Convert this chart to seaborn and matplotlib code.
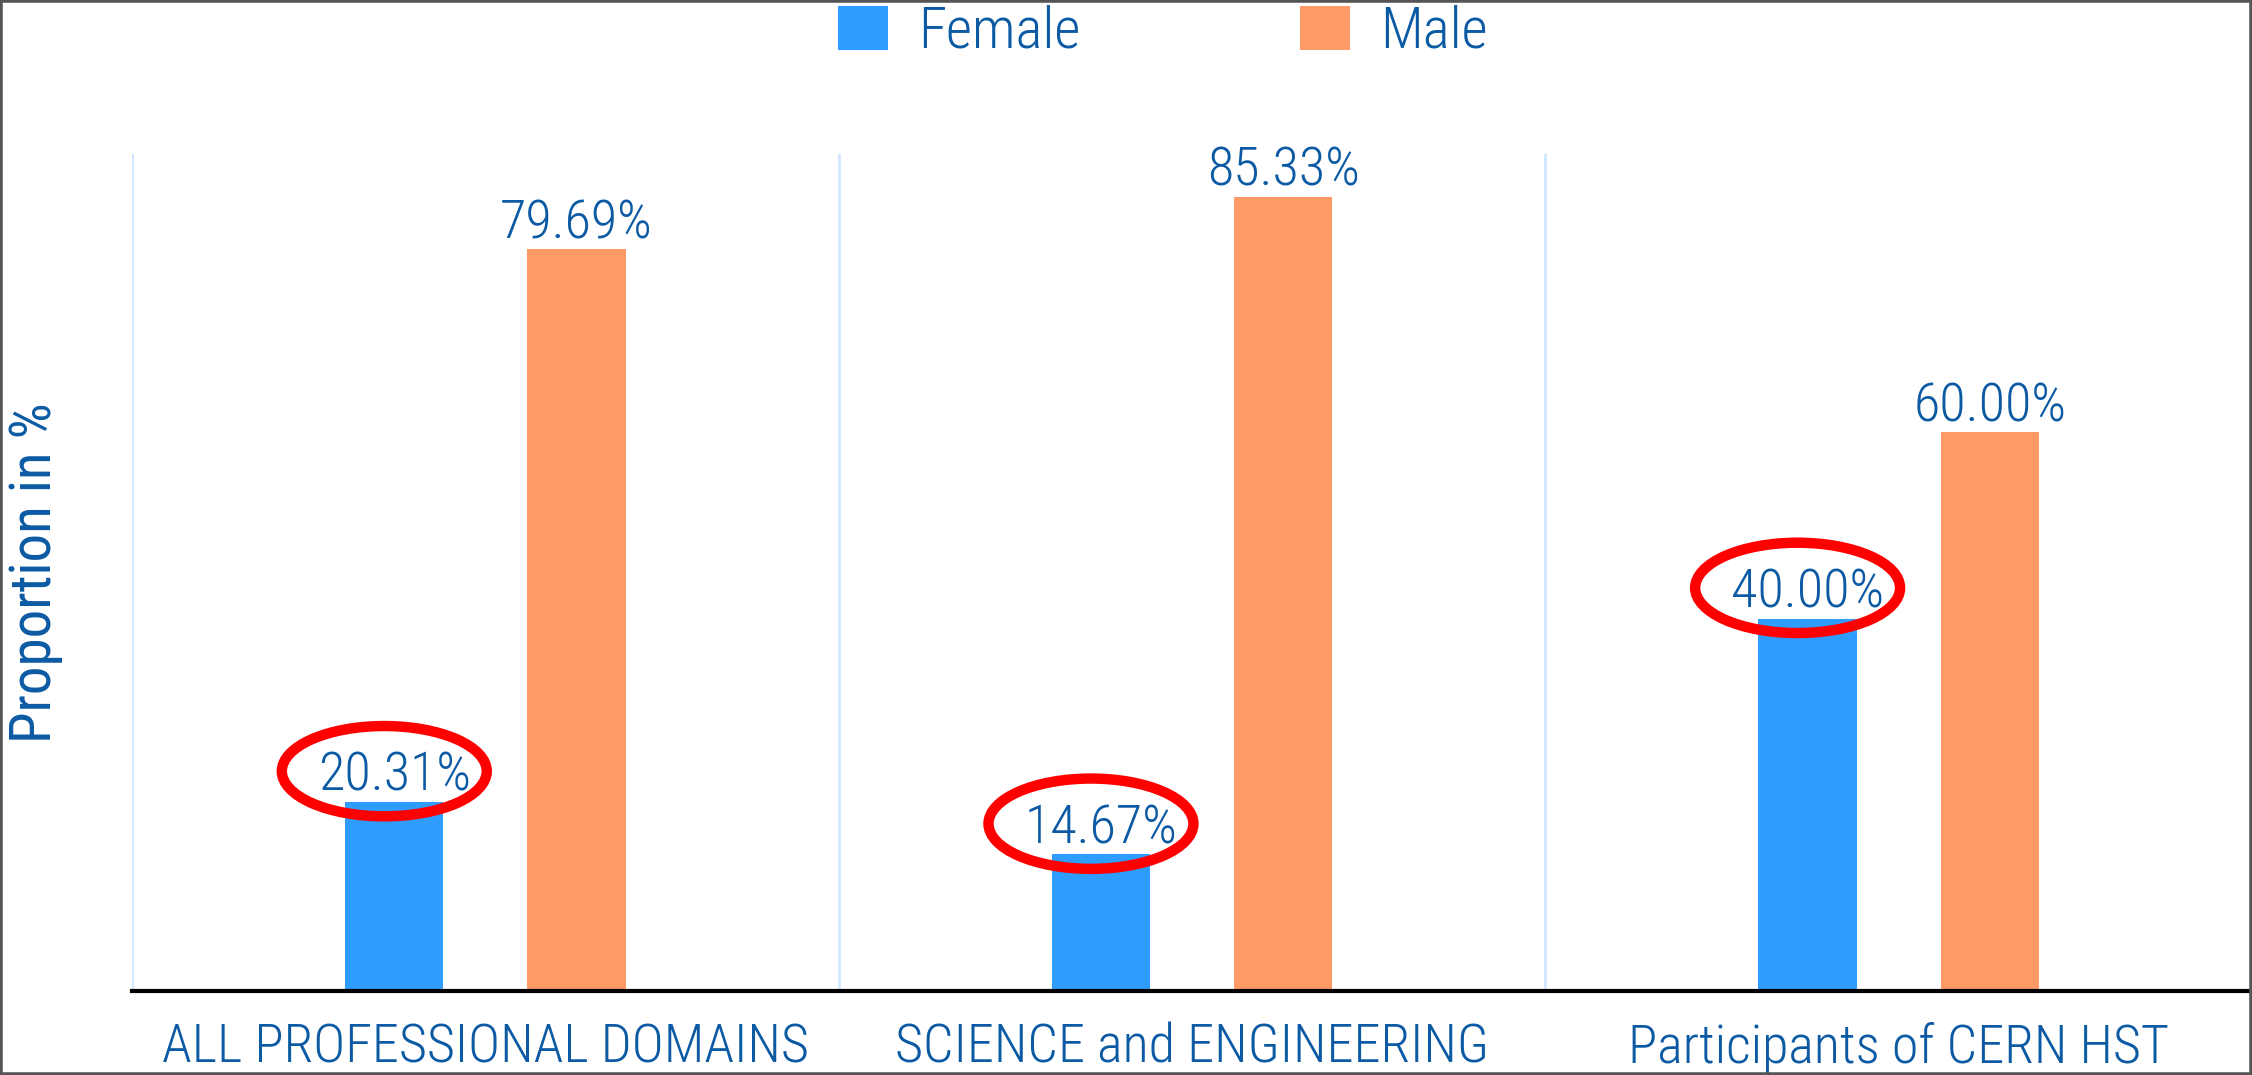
import matplotlib
matplotlib.use("Agg")
import matplotlib.pyplot as plt
import seaborn as sns
import pandas as pd
from matplotlib.patches import Ellipse, Rectangle, Patch

# ---- data ----
categories = ["ALL PROFESSIONAL DOMAINS", "SCIENCE and ENGINEERING", "Participants of CERN HST"]
series_names = ["Female", "Male"]
female = [20.31, 14.67, 40.00]
male = [79.69, 85.33, 60.00]
y_label = "Proportion in %"

df = pd.DataFrame({
    "Domain": categories * 2,
    "Sex": ["Female"] * len(categories) + ["Male"] * len(categories),
    "Proportion": female + male,
})

sns.set_theme(style="white")
plt.rcParams["font.family"] = ["Roboto Condensed", "Liberation Sans", "DejaVu Sans"]
plt.rcParams["font.weight"] = "light"

TEXT = "#0b5aa3"
colors = {"Female": "#2e9dff", "Male": "#ff9966"}
FS = 39

W, H = 2252, 1075
fig = plt.figure(figsize=(W / 100, H / 100), dpi=100)
ax = fig.add_axes([132 / W, 84 / H, 1 - 132 / W, 837 / H])

sns.barplot(data=df, x="Domain", y="Proportion", hue="Sex", order=categories,
            hue_order=series_names, palette=colors, width=0.516, gap=0.46,
            saturation=1, errorbar=None, legend=False, linewidth=0, ax=ax)

ax.set_xlim(-0.5, len(categories) - 0.5)
ax.set_ylim(0, 89.9)

# vertical separators between categories
for i in range(len(categories)):
    ax.axvline(i - 0.5, color="#cfe6ff", lw=2, zorder=0)

for s in ["top", "left", "right"]:
    ax.spines[s].set_visible(False)
ax.spines["bottom"].set_color("black")
ax.spines["bottom"].set_linewidth(3)
ax.set_yticks([])
ax.tick_params(axis="x", length=0, labelsize=FS, labelcolor=TEXT, pad=22)
ax.set_xlabel("")
ax.set_ylabel(y_label, fontsize=FS + 2, color=TEXT)
ax.yaxis.set_label_coords(-0.0325, 0.5)

# value labels
for cont in ax.containers:
    ax.bar_label(cont, fmt="%.2f%%", fontsize=FS, color=TEXT, padding=0)

# red ellipses around female values
for bar in ax.containers[0]:
    cx = bar.get_x() + bar.get_width() / 2 - 0.014
    cy = bar.get_height() + 3.3
    ax.add_patch(Ellipse((cx, cy), 0.29, 9.7, fill=False, ec="#ff0000", lw=7.5,
                         clip_on=False, zorder=5))

# legend
handles = [Patch(facecolor=colors[n], edgecolor="none") for n in series_names]
fig.legend(handles, series_names, loc="center", bbox_to_anchor=(0.5164, 0.970),
           ncol=2, frameon=False, fontsize=41, handlelength=0.88, handleheight=0.79,
           handletextpad=0.53, columnspacing=3.86, labelcolor=TEXT)

# figure border
fig.add_artist(Rectangle((0, 0), 1, 1, transform=fig.transFigure, fill=False,
                         ec="#555555", lw=4))

fig.savefig("out.png", dpi=100)
